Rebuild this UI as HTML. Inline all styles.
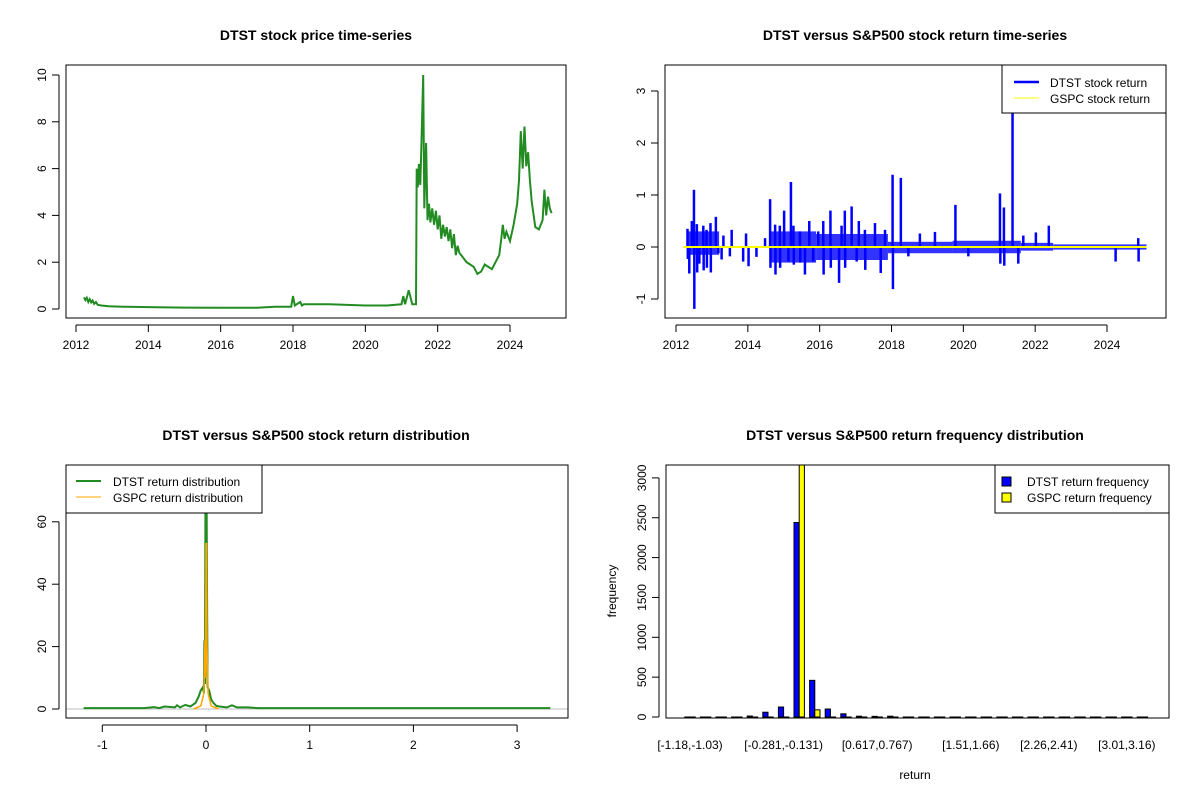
<!DOCTYPE html>
<html><head><meta charset="utf-8">
<style>
body{margin:0;background:#fff;}
svg{display:block;font-family:"Liberation Sans",Arial,sans-serif;}
.t{font-size:14px;font-weight:bold;text-anchor:middle;}
.tk{font-size:12px;}
</style></head>
<body>
<svg id="c" width="1200" height="800" viewBox="0 0 1200 800"></svg>
<script>
// ---------- DATA ----------
const priceDates=[2012.22,2012.26,2012.3,2012.34,2012.38,2012.42,2012.46,2012.5,2012.55,2012.6,2012.7,2012.9,2013.3,2014,2015,2016,2017,2017.5,2017.95,2018.0,2018.05,2018.2,2018.25,2018.3,2019,2020,2020.6,2021.0,2021.05,2021.1,2021.2,2021.3,2021.4,2021.42,2021.45,2021.48,2021.52,2021.55,2021.6,2021.63,2021.68,2021.72,2021.76,2021.8,2021.85,2021.9,2021.95,2022.0,2022.05,2022.1,2022.15,2022.2,2022.25,2022.3,2022.35,2022.4,2022.45,2022.5,2022.55,2022.6,2022.7,2022.8,2022.9,2023.0,2023.1,2023.2,2023.3,2023.5,2023.6,2023.7,2023.75,2023.8,2023.85,2023.9,2024.0,2024.1,2024.2,2024.25,2024.3,2024.35,2024.4,2024.45,2024.5,2024.55,2024.6,2024.7,2024.8,2024.9,2024.95,2025.0,2025.05,2025.1,2025.15];
const priceVals=[0.5,0.38,0.48,0.3,0.42,0.28,0.36,0.22,0.3,0.18,0.15,0.12,0.1,0.08,0.06,0.05,0.05,0.1,0.1,0.55,0.15,0.3,0.15,0.2,0.2,0.15,0.15,0.2,0.55,0.2,0.8,0.2,0.2,6.0,5.2,6.2,5.3,7.0,10.0,4.3,7.1,3.8,4.5,3.7,4.3,3.6,4.2,3.4,4.0,3.0,3.6,3.1,3.5,2.9,3.4,2.6,3.2,2.3,2.7,2.4,2.2,2.0,1.9,1.8,1.5,1.6,1.9,1.7,2.0,2.3,2.9,3.6,3.0,3.3,2.9,3.6,4.5,5.5,7.6,6.0,7.8,6.1,6.7,5.5,4.6,3.5,3.4,3.8,5.1,4.0,4.8,4.3,4.1];

const retDates=[2012.32,2012.33,2012.37,2012.44,2012.50,2012.51,2012.58,2012.59,2012.65,2012.76,2012.77,2012.85,2012.86,2012.96,2012.97,2013.11,2013.18,2013.27,2013.32,2013.50,2013.55,2013.87,2013.95,2014.02,2014.24,2014.48,2014.62,2014.63,2014.76,2014.77,2014.89,2014.90,2015.01,2015.13,2015.20,2015.27,2015.28,2015.45,2015.46,2015.59,2015.71,2015.82,2015.96,2016.10,2016.11,2016.30,2016.31,2016.54,2016.61,2016.70,2016.71,2016.89,2017.03,2017.09,2017.26,2017.27,2017.54,2017.70,2017.82,2018.03,2018.04,2018.26,2018.47,2018.79,2019.21,2019.78,2020.14,2021.02,2021.03,2021.13,2021.14,2021.37,2021.53,2021.67,2022.02,2022.38,2024.24,2024.87,2024.88];
const retVals=[0.35,-0.23,-0.51,0.5,1.1,-1.19,0.44,-0.49,-0.32,0.41,-0.45,0.33,-0.4,0.46,-0.49,0.58,-0.12,-0.24,0.22,-0.18,0.33,-0.28,0.26,-0.37,-0.19,0.17,0.92,-0.4,0.43,-0.53,0.41,-0.4,0.7,-0.28,1.25,0.41,-0.34,0.3,-0.3,-0.53,0.5,-0.28,0.3,0.5,-0.53,0.7,-0.4,-0.69,0.41,0.7,-0.4,0.78,-0.28,0.5,0.33,-0.44,0.46,-0.5,0.33,1.39,-0.81,1.33,-0.18,0.26,0.29,0.81,-0.18,1.03,-0.32,0.76,-0.36,2.65,-0.32,0.22,0.28,0.41,-0.28,0.17,-0.28];
const bandStart=[2012.3,2014.6,2015.9,2017.9,2019.7,2021.6,2022.5];
const bandEnd=[2013.2,2015.9,2017.9,2019.7,2021.6,2022.5,2025.1];
const bandUp=[0.3,0.3,0.25,0.1,0.12,0.08,0.05];
const bandDown=[-0.15,-0.3,-0.25,-0.12,-0.12,-0.07,-0.05];

const dtstDensX=[-1.18,-0.6,-0.5,-0.45,-0.4,-0.3,-0.28,-0.25,-0.2,-0.15,-0.1,-0.07,-0.05,-0.03,-0.02,-0.015,-0.01,-0.005,0.005,0.01,0.015,0.03,0.05,0.07,0.1,0.13,0.2,0.25,0.3,0.4,0.5,1,3.32];
const dtstDensY=[0.3,0.3,0.6,0.3,0.8,0.5,1.2,0.5,1.3,0.8,2,4,6,7,5,22,8,75,75,40,7,6,3,2,1,0.8,0.5,1.2,0.5,0.5,0.3,0.3,0.3];
const gspcDensX=[-0.12,-0.05,-0.02,-0.01,-0.005,0,0.005,0.01,0.02,0.05,0.12];
const gspcDensY=[0,1,5,22,10,53,53,20,5,1,0];

const binLabels=["[-1.18,-1.03)","[-1.03,-0.88)","[-0.88,-0.73)","[-0.73,-0.58)","[-0.58,-0.431)","[-0.431,-0.281)","[-0.281,-0.131)","[-0.131,0.019)","[0.019,0.168)","[0.168,0.318)","[0.318,0.468)","[0.468,0.617)","[0.617,0.767)","[0.767,0.917)","[0.917,1.07)","[1.07,1.22)","[1.22,1.37)","[1.37,1.51)","[1.51,1.66)","[1.66,1.81)","[1.81,1.96)","[1.96,2.11)","[2.11,2.26)","[2.26,2.41)","[2.41,2.56)","[2.56,2.71)","[2.71,2.86)","[2.86,3.01)","[3.01,3.16)","[3.16,3.31)"];
const shownLabels=[0,6,12,18,23,28];
const dtstFreq=[0,0,0,0,12,60,125,2440,460,100,40,10,8,10,0,0,0,0,0,0,0,0,0,0,0,0,0,0,0,0];
const gspcFreq=[0,0,0,0,0,0,0,3400,90,0,0,0,0,0,0,0,0,0,0,0,0,0,0,0,0,0,0,0,0,0];

const yearTicks=[2012,2014,2016,2018,2020,2022,2024];
const priceTicks=[0,2,4,6,8,10];
const retTicks=[-1,0,1,2,3];
const densXTicks=[-1,0,1,2,3];
const densYTicks=[0,20,40,60];
const freqTicks=[0,500,1000,1500,2000,2500,3000];

// ---------- HELPERS ----------
const svg=document.getElementById('c');
const NS='http://www.w3.org/2000/svg';
function mk(tag,attrs,parent){const e=document.createElementNS(NS,tag);for(const k in attrs)e.setAttribute(k,attrs[k]);(parent||svg).appendChild(e);return e;}
function txt(s,x,y,cls,parent,rot){const e=mk('text',{x:x,y:y,class:cls},parent);e.textContent=s;if(rot){e.setAttribute('transform','rotate(-90 '+x+' '+y+')');e.setAttribute('text-anchor','middle');}return e;}
function lin(d0,d1,r0,r1){return v=>r0+(v-d0)*(r1-r0)/(d1-d0);}
function panel(name,x0,y0,x1,y1){
  const g=mk('g',{});
  
  
  const cp=mk('clipPath',{id:'cp-'+name},g);mk('rect',{x:x0,y:y0,width:x1-x0,height:y1-y0},cp);
  return g;
}
function box(g,x0,y0,x1,y1){const r=mk('rect',{x:x0,y:y0,width:x1-x0,height:y1-y0,fill:'none',stroke:'#000','stroke-width':1},g);}
function xAxis(g,ticks,sx,yb,labels){
  const a=mk('g',{},g);
  
  
  mk('line',{x1:sx(ticks[0]),x2:sx(ticks[ticks.length-1]),y1:yb+7,y2:yb+7,stroke:'#000'},a);
  ticks.forEach((t,i)=>{mk('line',{x1:sx(t),x2:sx(t),y1:yb+7,y2:yb+14,stroke:'#000'},a);
    const e=txt(labels?labels[i]:String(t),sx(t),yb+31,'tk',a);e.setAttribute('text-anchor','middle');});
}
function yAxis(g,ticks,sy,xl){
  const a=mk('g',{},g);
  
  
  mk('line',{x1:xl-7,x2:xl-7,y1:sy(ticks[0]),y2:sy(ticks[ticks.length-1]),stroke:'#000'},a);
  ticks.forEach(t=>{mk('line',{x1:xl-14,x2:xl-7,y1:sy(t),y2:sy(t),stroke:'#000'},a);
    txt(String(t),xl-20,sy(t),'tk',a,true);});
}

// ---------- PANEL 1: price ----------
(function(){
  const g=panel('price-panel',66,65,566,318);
  const sx=lin(2012,2024,76,510), sy=lin(0,10,309,75);
  const t=txt('DTST stock price time-series',316,40,'t',g);
  
  const pts=priceDates.map((d,i)=>sx(d).toFixed(1)+','+sy(priceVals[i]).toFixed(1)).join(' ');
  const p=mk('polyline',{points:pts,fill:'none',stroke:'#228B22','stroke-width':2,'stroke-linejoin':'miter'},g);
  
  
  box(g,66,65,566,318);
  xAxis(g,yearTicks,sx,318);
  yAxis(g,priceTicks,sy,66);
})();

// ---------- PANEL 2: returns ----------
(function(){
  const g=panel('return-panel',665,65,1166,318);
  const sx=lin(2012,2024,676,1107), sy=lin(0,1,247,195);
  txt('DTST versus S&P500 stock return time-series',915,40,'t',g);
  const cl=mk('g',{'clip-path':'url(#cp-return-panel)'},g);
  bandStart.forEach((b,i)=>{
    const r=mk('rect',{x:sx(b),y:sy(bandUp[i]),width:sx(bandEnd[i])-sx(b),height:sy(bandDown[i])-sy(bandUp[i]),fill:'#0000ff','fill-opacity':0.8},cl);
    
    
  });
  retDates.forEach((d,i)=>{
    const l=mk('line',{x1:sx(d),x2:sx(d),y1:sy(0),y2:sy(retVals[i]),stroke:'#0000ff','stroke-width':2.5},cl);
    
    
  });
  const y=mk('line',{x1:sx(2012.2),x2:sx(2025.1),y1:sy(0),y2:sy(0),stroke:'#ffff00','stroke-width':2},cl);
  
  
  box(g,665,65,1166,318);
  xAxis(g,yearTicks,sx,318);
  yAxis(g,retTicks,sy,665);
  const lg=mk('g',{},g);
  
  
  mk('rect',{x:1002,y:65,width:164,height:48,fill:'#fff',stroke:'#000'},lg);
  mk('line',{x1:1014,x2:1039,y1:82,y2:82,stroke:'#0000ff','stroke-width':2.5},lg);
  mk('line',{x1:1014,x2:1039,y1:98,y2:98,stroke:'#ffff00','stroke-width':1},lg);
  txt('DTST stock return',1050,87,'tk',lg);
  txt('GSPC stock return',1050,103,'tk',lg);
})();

// ---------- PANEL 3: density ----------
(function(){
  const g=panel('density-panel',66,465,568,718);
  const sx=lin(0,1,206,309.7), sy=lin(0,20,709,646.6);
  txt('DTST versus S&P500 stock return distribution',316,440,'t',g);
  const cl=mk('g',{'clip-path':'url(#cp-density-panel)'},g);
  mk('line',{x1:66,x2:568,y1:sy(0),y2:sy(0),stroke:'#bebebe'},cl);
  const gp=mk('polyline',{points:dtstDensX.map((v,i)=>sx(v).toFixed(1)+','+sy(dtstDensY[i]).toFixed(1)).join(' '),fill:'none',stroke:'#228B22','stroke-width':2},cl);
  
  
  const op=mk('polyline',{points:gspcDensX.map((v,i)=>sx(v).toFixed(1)+','+sy(gspcDensY[i]).toFixed(1)).join(' '),fill:'none',stroke:'#ffa500','stroke-width':1.5},cl);
  
  
  box(g,66,465,568,718);
  xAxis(g,densXTicks,sx,718);
  yAxis(g,densYTicks,sy,66);
  const lg=mk('g',{},g);
  
  
  mk('rect',{x:66,y:465,width:196,height:48,fill:'#fff',stroke:'#000'},lg);
  mk('line',{x1:76,x2:101,y1:481,y2:481,stroke:'#228B22','stroke-width':2},lg);
  mk('line',{x1:76,x2:101,y1:497,y2:497,stroke:'#ffa500','stroke-width':1},lg);
  txt('DTST return distribution',113,486,'tk',lg);
  txt('GSPC return distribution',113,502,'tk',lg);
})();

// ---------- PANEL 4: frequency ----------
(function(){
  const g=panel('frequency-panel',666,465,1169,718);
  const u=5.2, c0=690, step=15.6;
  const cx=i=>c0+i*step, sy=lin(0,1000,717,637.3);
  txt('DTST versus S&P500 return frequency distribution',915,440,'t',g);
  const cl=mk('g',{'clip-path':'url(#cp-frequency-panel)'},g);
  binLabels.forEach((lab,i)=>{
    const hb=Math.max(0.01,sy(0)-sy(dtstFreq[i]));
    const b=mk('rect',{x:cx(i)-u,y:sy(0)-hb,width:u,height:hb,fill:'#0000ff',stroke:'#000','stroke-width':1},cl);
    
    
    const hy=Math.max(0.01,sy(0)-sy(gspcFreq[i]));
    const y=mk('rect',{x:cx(i),y:sy(0)-hy,width:u,height:hy,fill:'#ffff00',stroke:'#000','stroke-width':1},cl);
    
    
  });
  box(g,666,465,1169,718);
  yAxis(g,freqTicks,sy,666);
  const xa=mk('g',{},g);
  
  
  shownLabels.forEach(i=>{const e=txt(binLabels[i],cx(i),749,'tk',xa);e.setAttribute('text-anchor','middle');});
  const xt=txt('return',915,779,'tk',g);xt.setAttribute('text-anchor','middle');
  
  const yt=txt('frequency',616,591,'tk',g,true);
  
  const lg=mk('g',{},g);
  
  
  mk('rect',{x:995,y:465,width:174,height:48,fill:'#fff',stroke:'#000'},lg);
  mk('rect',{x:1002,y:477,width:9,height:9,fill:'#0000ff',stroke:'#000'},lg);
  mk('rect',{x:1002,y:493,width:9,height:9,fill:'#ffff00',stroke:'#000'},lg);
  txt('DTST return frequency',1027,486,'tk',lg);
  txt('GSPC return frequency',1027,502,'tk',lg);
})();
</script>
</body></html>
